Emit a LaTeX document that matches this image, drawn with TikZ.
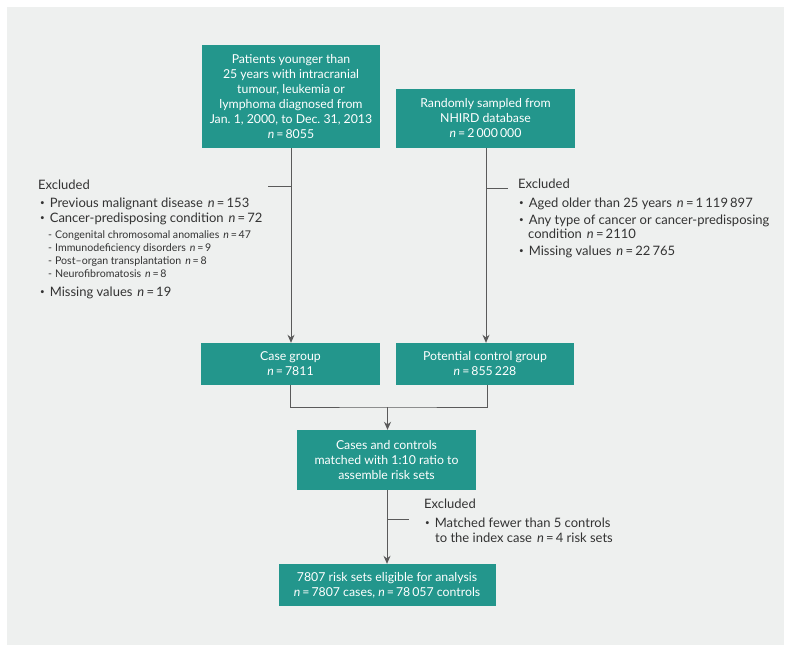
\documentclass[tikz,border=0pt]{standalone}
\usepackage{fontspec}
\setmainfont{Lato}
\usetikzlibrary{positioning,calc,arrows.meta}
\definecolor{tealbox}{HTML}{23968C}
\definecolor{panel}{HTML}{EEF0EF}
\definecolor{linegray}{HTML}{5A5A5A}
\definecolor{textgray}{HTML}{333333}
\newcommand{\nn}{\textit{n}\,=\,}
\newcommand{\dotb}{\raisebox{1.3pt}{\fontsize{8}{8}\selectfont\textbullet}\hspace{5pt}}

\begin{document}
\begin{tikzpicture}[
    x=1pt, y=-1pt,
    box/.style={fill=tealbox, text=white, align=center, inner sep=0pt, font=\fontsize{12.3}{15}\selectfont},
    arr/.style={-{Stealth[length=8pt, width=7pt]}, linegray, line width=0.9pt},
    link/.style={linegray, line width=0.9pt},
    extxt/.style={anchor=base west, inner sep=0pt, text=textgray, font=\fontsize{13}{15}\selectfont},
    subtxt/.style={extxt, font=\fontsize{10.6}{12}\selectfont},
]
    % === FRAME ===
    \fill[white] (0,0) rectangle (791,653);
    \fill[panel] (7,7) rectangle (784,645);

    % === TOP ROW ===
    \node[box, minimum width=178pt, minimum height=103pt] (patients) at (291, 96.5)
        {Patients younger than\\25 years with intracranial\\tumour, leukemia or\\lymphoma diagnosed from\\Jan.\ 1, 2000, to Dec.\ 31, 2013\\\nn 8055};
    \node[box, minimum width=179pt, minimum height=59pt] (nhird) at (485.5, 118.5)
        {Randomly sampled from\\NHIRD database\\\nn 2\,000\,000};

    % === GROUPS ===
    \node[box, minimum width=179pt, minimum height=42pt] (cases) at (290.5, 364)
        {Case group\\\nn 7811};
    \node[box, minimum width=178pt, minimum height=42pt] (controls) at (485, 364)
        {Potential control group\\\nn 855\,228};

    % === MATCHING ===
    \node[box, minimum width=179pt, minimum height=60pt] (matched) at (386.5, 460)
        {Cases and controls\\matched with 1:10 ratio to\\assemble risk sets};
    \node[box, minimum width=217pt, minimum height=42pt] (final) at (387, 585)
        {7807 risk sets eligible for analysis\\\nn 7807 cases, \nn 78\,057 controls};

    % === EXCLUSIONS: cases ===
    \node[extxt] (exA) at (38, 189) {Excluded};
    \node[extxt] (exA1) at (40, 207) {\dotb Previous malignant disease\hspace{5pt}\nn 153};
    \node[extxt] (exA2) at (40, 222) {\dotb Cancer-predisposing condition\hspace{5pt}\nn 72};
    \node[subtxt] (exA2a) at (48, 238) {-\hspace{3pt}Congenital chromosomal anomalies\hspace{4pt}\nn 47};
    \node[subtxt] (exA2b) at (48, 251) {-\hspace{3pt}Immunodeficiency disorders\hspace{4pt}\nn 9};
    \node[subtxt] (exA2c) at (48, 264) {-\hspace{3pt}Post--organ transplantation\hspace{4pt}\nn 8};
    \node[subtxt] (exA2d) at (48, 277) {-\hspace{3pt}Neurofibromatosis\hspace{4pt}\nn 8};
    \node[extxt] (exA3) at (40, 296) {\dotb Missing values\hspace{5pt}\nn 19};

    % === EXCLUSIONS: controls ===
    \node[extxt] (exB) at (518, 188) {Excluded};
    \node[extxt] (exB1) at (519, 207) {\dotb Aged older than 25 years\hspace{5pt}\nn 1\,119\,897};
    \node[extxt] (exB2) at (519, 224) {\dotb Any type of cancer or cancer-predisposing};
    \node[extxt] (exB2b) at (528, 238) {condition\hspace{5pt}\nn 2110};
    \node[extxt] (exB3) at (519, 255) {\dotb Missing values\hspace{5pt}\nn 22\,765};

    % === EXCLUSIONS: matching ===
    \node[extxt] (exC) at (424, 508) {Excluded};
    \node[extxt] (exC1) at (425, 527) {\dotb Matched fewer than 5 controls};
    \node[extxt] (exC1b) at (435, 542) {to the index case\hspace{5pt}\nn 4 risk sets};

    % === BRANCH POINTS ===
    \coordinate (brA) at (291, 186);
    \coordinate (brB) at (486, 188);
    \coordinate (brC) at (387, 519);
    \coordinate (mrg) at (387.5, 407);

    % === ARROWS ===
    \draw[arr] (patients.south -| brA) -- (cases.north -| brA);
    \draw[link] (brA) -- ++(-23, 0);
    \draw[arr] (nhird.south -| brB) -- (controls.north -| brB);
    \draw[link] (brB) -- ++(22, 0);
    \draw[link] (cases.south -| 290,0) |- (mrg) -| (controls.south -| 487,0);
    \draw[arr] (mrg) -- (matched.north -| mrg);
    \draw[arr] (matched.south -| brC) -- (final.north -| brC);
    \draw[link] (brC) -- ++(22, 0);
\end{tikzpicture}
\end{document}
